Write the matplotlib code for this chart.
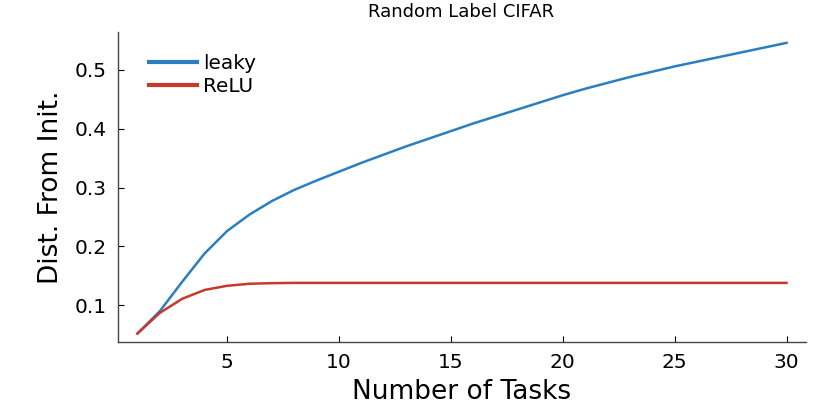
import matplotlib
matplotlib.use("Agg")
import matplotlib.pyplot as plt

tasks = list(range(1, 31))
leaky = [0.052, 0.090, 0.140, 0.188, 0.226, 0.254, 0.277, 0.296, 0.312, 0.327,
         0.342, 0.356, 0.370, 0.383, 0.396, 0.409, 0.421, 0.433, 0.445, 0.457,
         0.468, 0.478, 0.488, 0.497, 0.506, 0.514, 0.522, 0.530, 0.538, 0.546]
relu = [0.052, 0.087, 0.111, 0.126, 0.133, 0.1365, 0.1375, 0.138, 0.138, 0.138,
        0.138, 0.138, 0.138, 0.138, 0.138, 0.138, 0.138, 0.138, 0.138, 0.138,
        0.138, 0.138, 0.138, 0.138, 0.138, 0.138, 0.138, 0.138, 0.138, 0.138]
xticks = [5, 10, 15, 20, 25, 30]
yticks = [0.1, 0.2, 0.3, 0.4, 0.5]

fig = plt.figure(figsize=(8.14, 4.07), dpi=100)
ax = fig.add_axes([118/814, 1 - 342/407, (806-118)/814, (342-32)/407])

ax.plot(tasks, leaky, color="#2b7fc0", lw=1.8, label="leaky")
ax.plot(tasks, relu, color="#c8392b", lw=1.8, label="ReLU")

ax.set_xlim(0.13, 30.87)
ax.set_ylim(0.0375, 0.5645)
ax.set_xticks(xticks)
ax.set_yticks(yticks)
ax.set_xticklabels([str(t) for t in xticks])
ax.set_yticklabels([f"{t:.1f}" for t in yticks])
ax.tick_params(direction="in", length=4, width=0.8, labelsize=14.5, pad=8)
for s in ["top", "right"]:
    ax.spines[s].set_visible(False)
for s in ["left", "bottom"]:
    ax.spines[s].set_linewidth(1.0)
    ax.spines[s].set_color("#444444")

ax.set_xlabel("Number of Tasks", fontsize=19, labelpad=5)
ax.set_ylabel("Dist. From Init.", fontsize=19, labelpad=8)
fig.text(461/814, 1 - 12/407, "Random Label CIFAR", ha="center", va="center", fontsize=13)

leg = ax.legend(loc="upper left", bbox_to_anchor=(0.025, 0.974), frameon=False,
                fontsize=14.4, handlelength=2.4, handletextpad=0.3, labelspacing=0.2,
                borderpad=0.2)
for h in leg.get_lines():
    h.set_linewidth(3)

fig.savefig("out.png", dpi=100)
